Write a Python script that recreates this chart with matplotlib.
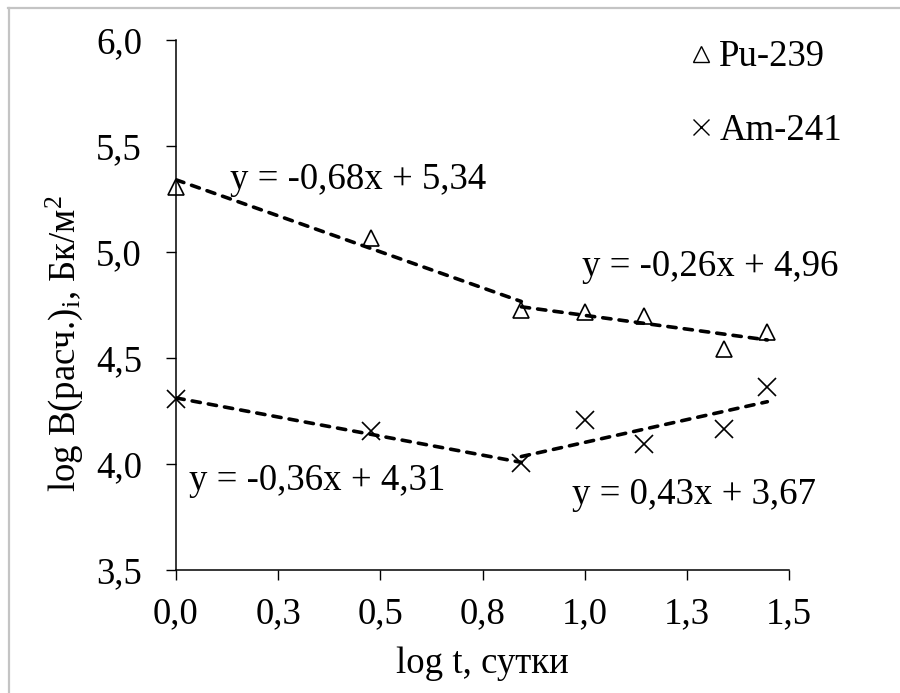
import matplotlib
matplotlib.use("Agg")
import matplotlib.pyplot as plt
from matplotlib.lines import Line2D
import numpy as np

plt.rcParams['font.family'] = ['Liberation Serif', 'DejaVu Serif']
plt.rcParams['mathtext.fontset'] = 'custom'
plt.rcParams['mathtext.rm'] = 'Liberation Serif'
plt.rcParams['mathtext.it'] = 'Liberation Serif:italic'

# ---- data ----
log_t = [0.0, 0.477, 0.845, 1.0, 1.146, 1.342, 1.447]
pu239 = [5.306, 5.067, 4.723, 4.715, 4.695, 4.542, 4.621]
am241 = [4.305, 4.155, 4.005, 4.205, 4.092, 4.163, 4.363]

# piecewise trend lines: (x_start, x_end, slope, intercept)
pu_trend_x = [[0.0, 0.845], [0.845, 1.447]]
pu_slopes = [-0.68, -0.26]
pu_intercepts = [5.34, 4.96]
am_trend_x = [[0.0, 0.845], [0.845, 1.447]]
am_slopes = [-0.36, 0.43]
am_intercepts = [4.31, 3.67]

pu_eq = ["y = -0,68x + 5,34", "y = -0,26x + 4,96"]
am_eq = ["y = -0,36x + 4,31", "y = 0,43x + 3,67"]

x_ticks = [0.0, 0.25, 0.5, 0.75, 1.0, 1.25, 1.5]
x_ticklabels = ["0,0", "0,3", "0,5", "0,8", "1,0", "1,3", "1,5"]
y_ticks = [3.5, 4.0, 4.5, 5.0, 5.5, 6.0]
y_ticklabels = ["3,5", "4,0", "4,5", "5,0", "5,5", "6,0"]

FS = 26.5

fig = plt.figure(figsize=(9, 6.93), dpi=100)
ax = fig.add_axes([176/900, 1-569.5/693, (789-176)/900, (569.5-40)/693])

dash = (0, (2.3, 2.25))
for xs, k, b in zip(pu_trend_x, pu_slopes, pu_intercepts):
    xs = np.array(xs)
    ax.plot(xs, k*xs + b, color='black', lw=2.6, linestyle=dash, dash_capstyle='round', zorder=2)
for xs, k, b in zip(am_trend_x, am_slopes, am_intercepts):
    xs = np.array(xs)
    ax.plot(xs, k*xs + b, color='black', lw=2.6, linestyle=dash, dash_capstyle='round', zorder=2)

ax.plot(log_t, pu239, linestyle='none', marker='^', ms=12, mfc='none', mec='black', mew=1.2,
        clip_on=False, zorder=3)
ax.plot(log_t, am241, linestyle='none', marker='x', ms=13, mec='black', mew=1.2,
        clip_on=False, zorder=3)

# equation labels
ax.text(0.132, 5.295, pu_eq[0], fontsize=FS, ha='left', va='baseline')
ax.text(0.994, 4.888, pu_eq[1], fontsize=FS, ha='left', va='baseline')
ax.text(0.032, 3.874, am_eq[0], fontsize=FS, ha='left', va='baseline')
ax.text(0.969, 3.808, am_eq[1], fontsize=FS, ha='left', va='baseline')

ax.set_xlim(0, 1.5)
ax.set_ylim(3.5, 6.0)
ax.set_xticks(x_ticks)
ax.set_xticklabels(x_ticklabels, fontsize=FS)
ax.set_yticks(y_ticks)
ax.set_yticklabels(y_ticklabels, fontsize=FS)
ax.tick_params(direction='out', length=7.5, width=1.0, color='black')
ax.tick_params(axis='x', pad=12)
ax.tick_params(axis='y', pad=17)
for s in ['top', 'right']:
    ax.spines[s].set_visible(False)
for s in ['left', 'bottom']:
    ax.spines[s].set_linewidth(1.1)
    ax.spines[s].set_color('black')

ax.set_xlabel("log t, сутки", fontsize=FS)
ax.xaxis.set_label_coords(0.5, -0.146)
ax.set_ylabel("log B(расч.)$_{\\mathrm{i}}$, Бк/м$^{2}$", fontsize=FS)
ax.yaxis.set_label_coords(-0.148, 0.426)

handles = [
    Line2D([], [], linestyle='none', marker='^', ms=11, mfc='none', mec='black', mew=1.0),
    Line2D([], [], linestyle='none', marker='x', ms=12, mec='black', mew=1.0),
]
leg = fig.legend(handles, ["Pu-239", "Am-241"], loc='upper left',
                 bbox_to_anchor=(690/900, 1-40/693), frameon=False, fontsize=FS,
                 handlelength=0.6, handletextpad=0.2, labelspacing=1.05,
                 borderpad=0, borderaxespad=0)

# chart area border (top and left visible)
fig.add_artist(Line2D([8/900, 1.0], [1-7.5/693, 1-7.5/693], color='#c4c4c4', lw=1.6,
                      transform=fig.transFigure))
fig.add_artist(Line2D([8.5/900, 8.5/900], [0.0, 1-7.5/693], color='#c4c4c4', lw=1.6,
                      transform=fig.transFigure))

fig.savefig("out.png", dpi=100)
